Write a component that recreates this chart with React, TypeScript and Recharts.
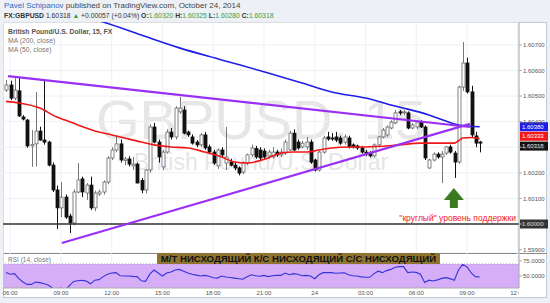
import { ComposedChart, Bar, Line, XAxis, YAxis, CartesianGrid, ReferenceLine, ReferenceArea, ReferenceDot } from "recharts";

const FONT = "'Liberation Sans', Arial, sans-serif";

// 15 min candles, index 0 = 05:45 (Oct 23), last = 09:45 (Oct 24)
const OPEN = [1.60523, 1.60543, 1.60492, 1.6052, 1.60418, 1.60406, 1.60305, 1.60313, 1.60363, 1.60328, 1.6032, 1.6023, 1.60133, 1.60063, 1.60105, 1.60031, 1.60004, 1.60125, 1.60176, 1.60121, 1.60152, 1.60063, 1.60117, 1.60125, 1.60164, 1.60258, 1.60289, 1.60313, 1.60248, 1.60254, 1.60227, 1.60234, 1.6017, 1.60133, 1.60211, 1.60379, 1.6032, 1.60223, 1.60281, 1.60359, 1.6034, 1.60438, 1.60445, 1.60359, 1.6034, 1.6032, 1.60309, 1.60348, 1.60301, 1.60281, 1.60227, 1.60289, 1.60238, 1.60242, 1.6023, 1.60219, 1.60203, 1.60238, 1.6027, 1.60295, 1.60289, 1.60285, 1.60266, 1.60262, 1.60281, 1.6027, 1.60277, 1.60289, 1.60355, 1.6032, 1.60301, 1.60301, 1.6032, 1.6025, 1.60211, 1.60281, 1.6034, 1.60336, 1.6034, 1.60336, 1.6032, 1.60336, 1.60309, 1.60305, 1.60297, 1.60281, 1.60277, 1.60266, 1.60309, 1.6034, 1.60348, 1.60375, 1.60395, 1.60438, 1.60434, 1.60434, 1.60375, 1.60379, 1.60398, 1.60379, 1.60219, 1.6025, 1.60273, 1.60262, 1.60277, 1.60301, 1.60277, 1.60242, 1.60535, 1.60629, 1.60516, 1.60344, 1.6032];
const HIGH = [1.60563, 1.6056, 1.6057, 1.6057, 1.60425, 1.6041, 1.60367, 1.60516, 1.6038, 1.60563, 1.60325, 1.6024, 1.6015, 1.60164, 1.60115, 1.6004, 1.60135, 1.60238, 1.60185, 1.6016, 1.60185, 1.6013, 1.60135, 1.6017, 1.60265, 1.603, 1.60344, 1.6033, 1.60262, 1.60265, 1.60262, 1.6024, 1.6018, 1.60215, 1.6039, 1.60395, 1.6033, 1.6029, 1.6037, 1.60375, 1.6046, 1.60496, 1.6046, 1.60365, 1.6035, 1.60328, 1.60355, 1.6036, 1.6031, 1.6029, 1.60295, 1.603, 1.60379, 1.60255, 1.6024, 1.60225, 1.60245, 1.60275, 1.6031, 1.60305, 1.603, 1.60295, 1.6029, 1.603, 1.6029, 1.60295, 1.6033, 1.60365, 1.6037, 1.6033, 1.60325, 1.6034, 1.6033, 1.60255, 1.60285, 1.60345, 1.6036, 1.60355, 1.6036, 1.60345, 1.6035, 1.60345, 1.60315, 1.6031, 1.60305, 1.6029, 1.60285, 1.60315, 1.60345, 1.60375, 1.60385, 1.60405, 1.60445, 1.60445, 1.60445, 1.6044, 1.60395, 1.60405, 1.60405, 1.60385, 1.60255, 1.6028, 1.6028, 1.60285, 1.60305, 1.6031, 1.60285, 1.6054, 1.60711, 1.6065, 1.6054, 1.6036, 1.60325];
const LOW = [1.60516, 1.60484, 1.60484, 1.60418, 1.60405, 1.60298, 1.60223, 1.60225, 1.60325, 1.6031, 1.60225, 1.60125, 1.5998, 1.60027, 1.6002, 1.59965, 1.59995, 1.6012, 1.60105, 1.60094, 1.60055, 1.6005, 1.6011, 1.60115, 1.60155, 1.6025, 1.6028, 1.6024, 1.6023, 1.60225, 1.60211, 1.6016, 1.6012, 1.6012, 1.602, 1.60315, 1.6024, 1.6021, 1.60275, 1.6033, 1.6033, 1.6043, 1.6035, 1.6034, 1.6031, 1.603, 1.603, 1.6029, 1.60275, 1.6023, 1.60215, 1.6026, 1.60211, 1.60225, 1.6021, 1.6019, 1.60195, 1.6023, 1.60262, 1.60255, 1.6025, 1.60255, 1.60255, 1.60255, 1.60262, 1.60262, 1.6027, 1.60285, 1.60285, 1.6029, 1.60295, 1.6029, 1.60235, 1.60205, 1.60205, 1.60275, 1.60325, 1.60325, 1.6032, 1.6031, 1.6031, 1.60295, 1.60295, 1.6029, 1.60275, 1.60265, 1.6026, 1.6026, 1.603, 1.60335, 1.6034, 1.6037, 1.6039, 1.60425, 1.60425, 1.6037, 1.6037, 1.6037, 1.60375, 1.6025, 1.60215, 1.60245, 1.60255, 1.6016, 1.6027, 1.60275, 1.6018, 1.60235, 1.6052, 1.6051, 1.6034, 1.603, 1.6028];
const CLOSE = [1.60543, 1.60492, 1.60523, 1.60422, 1.6041, 1.60305, 1.6031, 1.60363, 1.60328, 1.6032, 1.6023, 1.60133, 1.60063, 1.60105, 1.60027, 1.60004, 1.60125, 1.60172, 1.60125, 1.60152, 1.60063, 1.60121, 1.60125, 1.60164, 1.60258, 1.60289, 1.60313, 1.6025, 1.60254, 1.60234, 1.60234, 1.6016, 1.60133, 1.60211, 1.60379, 1.6032, 1.60262, 1.60281, 1.60359, 1.6034, 1.60453, 1.60453, 1.60355, 1.60348, 1.60316, 1.60309, 1.60348, 1.60297, 1.60281, 1.60238, 1.60289, 1.6027, 1.60262, 1.6023, 1.60219, 1.60199, 1.60238, 1.6027, 1.60297, 1.60262, 1.60258, 1.60262, 1.60281, 1.60281, 1.6027, 1.60281, 1.6032, 1.60355, 1.60289, 1.60297, 1.60316, 1.6032, 1.60242, 1.60211, 1.60281, 1.60336, 1.60332, 1.60332, 1.60328, 1.60316, 1.6034, 1.60301, 1.60301, 1.60297, 1.60281, 1.60273, 1.60266, 1.60309, 1.6034, 1.60367, 1.60379, 1.60398, 1.60434, 1.60434, 1.60438, 1.60375, 1.60387, 1.60398, 1.60379, 1.60258, 1.6025, 1.60273, 1.60262, 1.60273, 1.60301, 1.60281, 1.60242, 1.60535, 1.60629, 1.60516, 1.60348, 1.60316, 1.60318];
const RSI = [56, 53, 54, 46, 40, 36, 36, 40, 39, 37, 35, 30, 25, 30, 26, 34, 41, 42, 43, 41.5, 37, 43, 44, 49, 53, 55, 55.6, 50.5, 50, 50, 49.4, 49, 42, 41, 53, 60, 55, 50, 55, 56.5, 60, 61, 58, 55, 53, 51.5, 50, 51, 49.5, 47, 46.5, 50, 48.3, 47.5, 46.5, 45.5, 44.5, 48.9, 52, 50.5, 49.5, 51, 49, 50.5, 51, 51, 55, 52.2, 54, 53, 50.5, 51, 50, 45.5, 52, 55.6, 55.6, 55.6, 54.5, 55, 55.5, 52, 50.5, 50, 48.5, 47.8, 47.8, 54, 58, 55.6, 59, 61, 64.5, 65.6, 65.6, 55.6, 56.7, 56, 53, 39, 43, 41.7, 43.5, 46, 47.2, 45.6, 42.8, 60, 69.4, 65, 55, 49, 48.3];

const MA50_AT = [0, 3, 8, 12, 14, 17, 22, 25, 28, 32, 35, 39, 43, 47, 51, 54, 57, 62, 65, 68, 71, 74, 77, 81, 85, 93, 98, 103, 106, 107, 108, 110, 112];
const MA50 = [1.60479, 1.60473, 1.60453, 1.60418, 1.60406, 1.60387, 1.60359, 1.60348, 1.60336, 1.6032, 1.60309, 1.60301, 1.60297, 1.60281, 1.60262, 1.60242, 1.60238, 1.60258, 1.60277, 1.60281, 1.60281, 1.60289, 1.60297, 1.60301, 1.60301, 1.60309, 1.60316, 1.60316, 1.60316, 1.60325, 1.60336, 1.60338, 1.60333];
const MA200_AT = [17, 23, 32, 41, 51, 62, 70, 77, 85, 92, 100, 104, 107, 112];
const MA200 = [1.60816, 1.60789, 1.60738, 1.60688, 1.60641, 1.6059, 1.60551, 1.60516, 1.60492, 1.60461, 1.60426, 1.60402, 1.60387, 1.6038];

const TREND_TOP = [{ x: 0.5, y: 1.60578 }, { x: 109.7, y: 1.60379 }];
const TREND_LOW = [{ x: 13.2, y: 1.59926 }, { x: 109.7, y: 1.60391 }];
const SUPPORT = 1.6;
const ARROW_AT = { x: 105.9, y: 1.60102 };

const PRICE_TICKS = [1.599, 1.6, 1.601, 1.602, 1.603, 1.604, 1.605, 1.606, 1.607];
const TIME_TICKS = [1, 13, 25, 37, 49, 61, 73, 85, 97, 109, 121];
const TIME_LABELS = ["06:00", "09:00", "12:00", "15:00", "18:00", "21:00", "24", "03:00", "06:00", "09:00", "12:00"];
const RSI_TICKS = [50, 75];
const RSI_BAND = [30, 70];

const rows = OPEN.map((o, i) => ({ i, o, h: HIGH[i], l: LOW[i], c: CLOSE[i], rsi: RSI[i] }));
const ma50Rows = MA50_AT.map((i, k) => ({ i, v: MA50[k] }));
const ma200Rows = MA200_AT.map((i, k) => ({ i, v: MA200[k] }));

const X_DOMAIN = [-0.7, 121.3];
const MARGIN = { top: 0, right: 3, bottom: 0, left: 3 };

function Candle(props: any) {
  const { x, y, width, height, payload } = props;
  const { o, h, l, c } = payload;
  const k = height / (h - l);
  const cx = Math.round(x + width / 2) + 0.5;
  const top = y + (h - Math.max(o, c)) * k;
  const bot = y + (h - Math.min(o, c)) * k;
  const up = c >= o;
  return (
    <g>
      <line x1={cx} x2={cx} y1={y} y2={y + height} stroke={up ? "#777" : "#111"} strokeWidth={1} />
      <rect x={cx - 1.5} y={top} width={3} height={Math.max(bot - top, 1)} fill={up ? "#fff" : "#111"} stroke={up ? "#666" : "#111"} strokeWidth={0.8} />
    </g>
  );
}

// price tag on the right axis; dy nudges tags that would sit on top of each other
function AxisTag({ viewBox, fill, text, dy = 0 }: any) {
  const { x, width } = viewBox;
  const y = viewBox.y + dy;
  return (
    <g>
      <rect x={x + width + 1} y={y - 4.5} width={28} height={9} fill={fill} />
      <text x={x + width + 3} y={y + 2.2} fontSize={6} fill="#fff" fontFamily={FONT}>{text}</text>
    </g>
  );
}

function SupportLabel({ viewBox }: any) {
  const { x, y, width } = viewBox;
  return (
    <g>
      <text x={x + width - 3} y={y - 3} textAnchor="end" fontSize={8.5} fill="#f42020" fontFamily={FONT}>"круглый" уровень поддержки</text>
      <AxisTag viewBox={viewBox} fill="#333" text={SUPPORT.toFixed(5)} />
    </g>
  );
}

function GreenArrow({ cx, cy }: any) {
  const d = `M${cx} ${cy - 10} L${cx + 10} ${cy + 2} L${cx + 4} ${cy + 2} L${cx + 4} ${cy + 10} L${cx - 4} ${cy + 10} L${cx - 4} ${cy + 2} L${cx - 10} ${cy + 2} Z`;
  return <path d={d} fill="#3b7a1f" />;
}

function TimeTick({ x, y, payload }: any) {
  const idx = TIME_TICKS.indexOf(payload.value);
  return (
    <g>
      <defs>
        <clipPath id="tclip">
          <rect x={0} y={0} width={519} height={60} />
        </clipPath>
      </defs>
      <g clipPath="url(#tclip)">
        <text x={x} y={y + 7} textAnchor="middle" fontSize={6} fill="#555" fontFamily={FONT}>{TIME_LABELS[idx]}</text>
      </g>
    </g>
  );
}

export default function App() {
  const last = rows[rows.length - 1];
  const green = { color: "#3e9b3e" };
  return (
    <div style={{ position: "absolute", left: 0, top: 0, width: 550, height: 303, background: "#edf1f5", fontFamily: FONT, overflow: "hidden" }}>
      <div style={{ position: "absolute", left: 4, top: 1, fontSize: 8, lineHeight: "10px", color: "#444", whiteSpace: "nowrap" }}>
        <span style={{ color: "#2c6cc4" }}>Pavel Schipanov</span> published on TradingView.com, October 24, 2014
      </div>
      <div style={{ position: "absolute", left: 4, top: 11, fontSize: 6.8, lineHeight: "9px", color: "#333", whiteSpace: "nowrap" }}>
        <b>FX:GBPUSD</b> {last.c.toFixed(5)} <span style={green}>▲</span> +0.00057 (+0.04%) <b>O:</b><span style={green}>{last.o.toFixed(5)}</span> <b>H:</b><span style={green}>{last.h.toFixed(5)}</span> <b>L:</b><span style={green}>{last.l.toFixed(5)}</span> <b>C:</b><span style={green}>{last.c.toFixed(5)}</span>
      </div>
      <div style={{ position: "absolute", left: 3, top: 22, width: 544, height: 276, background: "#fff", boxSizing: "border-box", border: "1px solid #c5cad1" }} />

      <div style={{ position: "absolute", left: 3, top: 98, width: 516, textAlign: "center", fontSize: 56, lineHeight: "44px", color: "#e6e6e6", whiteSpace: "nowrap" }}>GBPUSD, 15</div>
      <div style={{ position: "absolute", left: 3, top: 152, width: 516, textAlign: "center", fontSize: 23, lineHeight: "20px", color: "#e6e6e6", whiteSpace: "nowrap" }}>British Pound/U.S. Dollar</div>

      <div style={{ position: "absolute", left: 0, top: 22 }}>
        <ComposedChart width={550} height={231} data={rows} margin={MARGIN}>
          <CartesianGrid stroke="#eef0f3" />
          <XAxis dataKey="i" type="number" domain={X_DOMAIN} ticks={TIME_TICKS} allowDataOverflow hide />
          <YAxis orientation="right" width={28} type="number" domain={[1.598867, 1.607891]} ticks={PRICE_TICKS} allowDataOverflow
            tickFormatter={(v: number) => v.toFixed(5)} tick={{ fontSize: 6, fill: "#555", fontFamily: FONT }} tickSize={3} tickMargin={1}
            axisLine={{ stroke: "#aaa" }} tickLine={{ stroke: "#aaa" }} />
          <ReferenceLine y={SUPPORT} stroke="#333" strokeWidth={1.5} label={(p: any) => <SupportLabel viewBox={p.viewBox} />} />
          <Bar dataKey={(r: any) => [r.l, r.h]} barSize={3} shape={(p: any) => <Candle {...p} />} isAnimationActive={false} />
          <Line data={ma200Rows} dataKey="v" type="monotone" stroke="#1e1ee8" strokeWidth={1.6} dot={false} isAnimationActive={false} />
          <Line data={ma50Rows} dataKey="v" type="monotone" stroke="#f01818" strokeWidth={1.6} dot={false} isAnimationActive={false} />
          <ReferenceLine segment={TREND_TOP} stroke="#9b30f5" strokeWidth={2.2} />
          <ReferenceLine segment={TREND_LOW} stroke="#9b30f5" strokeWidth={2.2} />
          <ReferenceDot x={ARROW_AT.x} y={ARROW_AT.y} shape={(p: any) => <GreenArrow {...p} />} />
          <ReferenceLine y={last.c} strokeOpacity={0} label={(p: any) => <AxisTag viewBox={p.viewBox} dy={3.5} fill="#111" text={last.c.toFixed(5)} />} />
          <ReferenceLine y={MA50[MA50.length - 1]} strokeOpacity={0} label={(p: any) => <AxisTag viewBox={p.viewBox} dy={-2.5} fill="#f01818" text={MA50[MA50.length - 1].toFixed(5)} />} />
          <ReferenceLine y={MA200[MA200.length - 1]} strokeOpacity={0} label={(p: any) => <AxisTag viewBox={p.viewBox} fill="#1e1ee8" text={MA200[MA200.length - 1].toFixed(5)} />} />
        </ComposedChart>
      </div>

      <div style={{ position: "absolute", left: 3, top: 253, width: 544, height: 1, background: "#888" }} />

      <div style={{ position: "absolute", left: 0, top: 253 }}>
        <ComposedChart width={550} height={45} data={rows} margin={MARGIN}>
          <CartesianGrid stroke="#eef0f3" horizontal={false} />
          <XAxis dataKey="i" type="number" domain={X_DOMAIN} ticks={TIME_TICKS} allowDataOverflow height={10}
            tick={(p: any) => <TimeTick {...p} />} tickSize={0} tickMargin={0} axisLine={{ stroke: "#aaa" }} />
          <YAxis orientation="right" width={28} type="number" domain={[30, 88.33]} ticks={RSI_TICKS} allowDataOverflow
            tickFormatter={(v: number) => v.toFixed(4)} tick={{ fontSize: 6, fill: "#555", fontFamily: FONT }} tickSize={3} tickMargin={1}
            axisLine={{ stroke: "#aaa" }} tickLine={{ stroke: "#aaa" }} />
          <ReferenceArea y1={RSI_BAND[0]} y2={RSI_BAND[1]} fill="#d6aef7" fillOpacity={1} stroke="none" />
          <ReferenceLine y={RSI_BAND[1]} stroke="#a58cc0" strokeDasharray="1 2" />
          <Line dataKey="rsi" type="linear" stroke="#3434d8" strokeWidth={1.1} dot={false} isAnimationActive={false} />
        </ComposedChart>
      </div>

      <div style={{ position: "absolute", left: 157, top: 253, width: 283, height: 11, background: "#8f7431", color: "#111", fontSize: 9.6, lineHeight: "11px", fontWeight: "bold", textAlign: "center", whiteSpace: "nowrap" }}>М/Т НИСХОДЯЩИЙ К/С НИСХОДЯЩИЙ С/С НИСХОДЯЩИЙ</div>

      <div style={{ position: "absolute", left: 8, top: 27, fontSize: 6.8, lineHeight: "9px", color: "#555", fontWeight: "bold", whiteSpace: "nowrap" }}>British Pound/U.S. Dollar, 15, FX</div>
      <div style={{ position: "absolute", left: 8, top: 36, fontSize: 6.8, lineHeight: "9px", color: "#777", whiteSpace: "nowrap" }}>MA (200, close)</div>
      <div style={{ position: "absolute", left: 8, top: 45, fontSize: 6.8, lineHeight: "9px", color: "#777", whiteSpace: "nowrap" }}>MA (50, close)</div>
      <div style={{ position: "absolute", left: 8, top: 255, fontSize: 6.5, lineHeight: "9px", color: "#777", whiteSpace: "nowrap" }}>RSI (14, close)</div>
    </div>
  );
}
